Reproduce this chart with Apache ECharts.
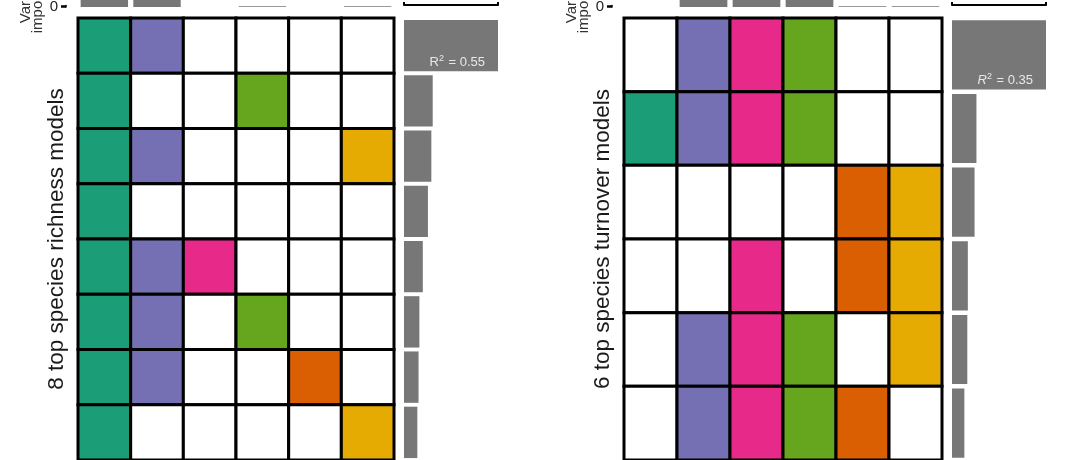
<!DOCTYPE html>
<html>
<head>
<meta charset="utf-8">
<script src="https://cdn.jsdelivr.net/npm/echarts@6/dist/echarts.min.js"></script>
<style>
html, body { margin: 0; padding: 0; background: #fff; }
#main { width: 1080px; height: 460px; }
</style>
</head>
<body>
<div id="main"></div>
<script>
// predictors (column order) and their colours
var predictors = ['P1', 'P2', 'P3', 'P4', 'P5', 'P6'];
var predictorColors = ['#1b9e77', '#7570b3', '#e7298a', '#66a61e', '#d95f02', '#e6ab02'];

// richness models: which predictors are in each model
var richnessModels = ['M1', 'M2', 'M3', 'M4', 'M5', 'M6', 'M7', 'M8'];
var richnessTerms = [
    [1, 1, 0, 0, 0, 0],
    [1, 0, 0, 1, 0, 0],
    [1, 1, 0, 0, 0, 1],
    [1, 0, 0, 0, 0, 0],
    [1, 1, 1, 0, 0, 0],
    [1, 1, 0, 1, 0, 0],
    [1, 1, 0, 0, 1, 0],
    [1, 0, 0, 0, 0, 1]
];
var richnessR2 = [0.55, 0.168, 0.16, 0.14, 0.11, 0.09, 0.085, 0.078];
var richnessImportance = [1, 0.8, 0, 0.055, 0, 0.055];

// turnover models
var turnoverModels = ['M1', 'M2', 'M3', 'M4', 'M5', 'M6'];
var turnoverTerms = [
    [0, 1, 1, 1, 0, 0],
    [1, 1, 1, 1, 0, 0],
    [0, 0, 0, 0, 1, 1],
    [0, 0, 1, 0, 1, 1],
    [0, 1, 1, 1, 0, 1],
    [0, 1, 1, 1, 1, 0]
];
var turnoverR2 = [0.35, 0.091, 0.084, 0.059, 0.057, 0.046];
var turnoverImportance = [0, 0.8, 0.95, 0.8, 0.045, 0.045];

var FONT = 'Liberation Sans';
var myChart = echarts.init(document.getElementById('main'));

function cellData(terms) {
    var res = [];
    for (var r = 0; r < terms.length; r++) {
        for (var c = 0; c < terms[r].length; c++) {
            res.push([c, r, terms[r][c]]);
        }
    }
    return res;
}

function renderCell(params, api) {
    var c = api.coord([api.value(0), api.value(1)]);
    var s = api.size([1, 1]);
    return {
        type: 'rect',
        shape: { x: c[0] - s[0] / 2, y: c[1] - s[1] / 2, width: s[0], height: s[1] },
        style: {
            fill: api.value(2) ? predictorColors[api.value(0)] : '#fff',
            stroke: '#000',
            lineWidth: 3
        }
    };
}

function r2Data(values, italic) {
    return values.map(function (v, i) {
        if (i > 0) return v;
        return {
            value: v,
            label: {
                show: true,
                position: 'insideBottomRight',
                distance: 1,
                offset: [-12, 0],
                formatter: (italic ? '{i|R}' : '{n|R}') + '{sup|2}{n| = ' + v.toFixed(2) + '}',
                rich: {
                    n: { fontFamily: FONT, fontSize: 13, color: '#e8e8e8' },
                    i: { fontFamily: FONT, fontSize: 13, color: '#e8e8e8', fontStyle: 'italic' },
                    sup: { fontFamily: FONT, fontSize: 9, color: '#e8e8e8', verticalAlign: 'top', padding: [0, 1, 7, 0] }
                }
            }
        };
    });
}

// one panel = matrix grid + importance grid on top + R2 grid on the right
function panelAxes(idx, rows, r2max, title) {
    var hidden = { show: false };
    return {
        xAxis: [
            { gridIndex: idx, type: 'category', data: predictors, show: false },
            { gridIndex: idx + 1, type: 'category', data: predictors, show: false },
            {
                gridIndex: idx + 2, type: 'value', min: 0, max: r2max, interval: r2max,
                position: 'top', offset: 13,
                axisLine: { show: true, lineStyle: { color: '#000', width: 2 } },
                axisTick: { show: true, length: 3, lineStyle: { color: '#000', width: 2 } },
                axisLabel: hidden, splitLine: hidden
            }
        ],
        yAxis: [
            {
                gridIndex: idx, type: 'category', data: rows, inverse: true,
                axisLine: hidden, axisTick: hidden, axisLabel: hidden,
                name: title, nameLocation: 'middle', nameRotate: 90, nameGap: 10,
                nameTextStyle: { fontFamily: FONT, fontSize: 22.5, color: '#1a1a1a' }
            },
            {
                gridIndex: idx + 1, type: 'value', min: 0, max: 0.11, interval: 0.11, offset: 12,
                axisLine: { show: true, lineStyle: { color: '#000', width: 1.5 } },
                axisTick: { show: true, length: 5, lineStyle: { color: '#000', width: 1.5 } },
                axisLabel: {
                    fontFamily: FONT, fontSize: 15, color: '#222', margin: 8,
                    formatter: function (v) { return v === 0 ? '0' : ''; }
                },
                splitLine: hidden,
                name: 'Variable\nimportance', nameLocation: 'middle', nameRotate: 90, nameGap: 20,
                nameTextStyle: {
                    fontFamily: FONT, fontSize: 15, lineHeight: 12, color: '#333',
                    padding: [0, 0, 0, 20]
                }
            },
            {
                gridIndex: idx + 2, type: 'category', data: rows, inverse: true,
                show: false
            }
        ]
    };
}

var left = panelAxes(0, richnessModels, 0.55, '8 top species richness models');
var right = panelAxes(3, turnoverModels, 0.35, '6 top species turnover models');

var option = {
    animation: false,
    backgroundColor: '#fff',
    grid: [
        { left: 78, width: 316, top: 18, height: 448 },
        { left: 78, width: 316, top: 0, height: 5.5 },
        { left: 404, width: 94, top: 18, height: 448 },
        { left: 624, width: 318, top: 18, height: 450 },
        { left: 624, width: 318, top: 0, height: 5.5 },
        { left: 952, width: 94, top: 18, height: 450 }
    ],
    xAxis: left.xAxis.concat(right.xAxis),
    yAxis: left.yAxis.concat(right.yAxis),
    series: [
        {
            type: 'custom', xAxisIndex: 0, yAxisIndex: 0,
            renderItem: renderCell, data: cellData(richnessTerms)
        },
        {
            type: 'bar', xAxisIndex: 1, yAxisIndex: 1, clip: false,
            data: richnessImportance, barWidth: '90%',
            itemStyle: { color: '#777777' }
        },
        {
            type: 'bar', xAxisIndex: 2, yAxisIndex: 2,
            data: r2Data(richnessR2, false), barWidth: '93%',
            itemStyle: { color: '#777777' }
        },
        {
            type: 'custom', xAxisIndex: 3, yAxisIndex: 3,
            renderItem: renderCell, data: cellData(turnoverTerms)
        },
        {
            type: 'bar', xAxisIndex: 4, yAxisIndex: 4, clip: false,
            data: turnoverImportance, barWidth: '90%',
            itemStyle: { color: '#777777' }
        },
        {
            type: 'bar', xAxisIndex: 5, yAxisIndex: 5,
            data: r2Data(turnoverR2, true), barWidth: '94%',
            itemStyle: { color: '#777777' }
        }
    ]
};
myChart.setOption(option);
</script>
</body>
</html>
